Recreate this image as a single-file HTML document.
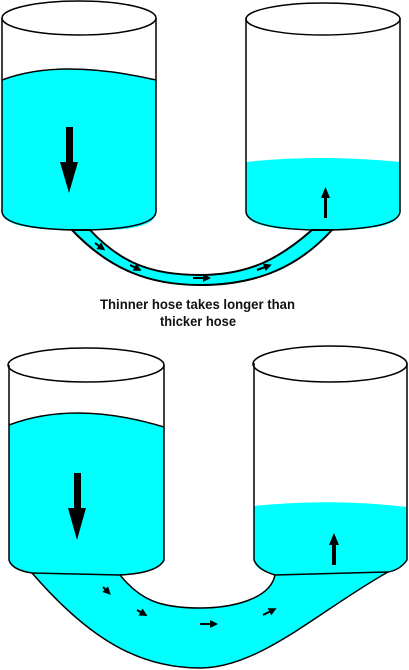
<!DOCTYPE html>
<html><head><meta charset="utf-8"><style>
html,body{margin:0;padding:0;background:#fff;width:409px;height:670px;overflow:hidden}
svg{display:block}
text{font-family:"Liberation Sans",sans-serif;font-size:13.5px;font-weight:bold;fill:#111}
</style></head><body>
<svg width="409" height="670" viewBox="0 0 409 670" xmlns="http://www.w3.org/2000/svg">
<defs>
<marker id="ah" markerWidth="4" markerHeight="4" refX="2" refY="2" orient="auto"><path d="M0,0 L4,2 L0,4z" fill="#000"/></marker>
</defs>
<g>
<path d="M2,80 Q60,58 156,80 L156,212 Q156,230 100,230 L72,230 Q2,230 2,212 Z" fill="#00ffff"/>
<path d="M2,80 Q60,58 156,80" fill="none" stroke="#000" stroke-width="1.5"/>
<path d="M2,18 L2,212 Q4,228 72,230 M156,18 L156,212 Q154,228 90,230" fill="none" stroke="#000" stroke-width="1.5"/>
<ellipse cx="79" cy="18" rx="77" ry="17" fill="none" stroke="#000" stroke-width="1.5"/>
<path d="M66,127 L73,127 L73,162 L78,162 L69,193 L60,162 L66,162 Z" fill="#000"/>
</g>
<g>
<path d="M246,162 Q320,154 400,162 L400,212 Q400,230 332,230 L312,230 Q246,230 246,212 Z" fill="#00ffff"/>
<path d="M246,18 L246,212 Q248,228 312,230 M400,18 L400,212 Q398,228 332,230" fill="none" stroke="#000" stroke-width="1.5"/>
<ellipse cx="323" cy="19" rx="77" ry="16" fill="none" stroke="#000" stroke-width="1.5"/>
<path d="M324,218 L327,218 L327,198 L330,198 L325.5,187 L321,198 L324,198 Z" fill="#000"/>
</g>
<path d="M72,230 C110,270 150,285 200,285 C260,285 300,265 332,230 L312,230 C280,258 250,275 200,275 C150,275 120,262 90,230 Z" fill="#00ffff" stroke="#000" stroke-width="2"/>
<g stroke="#000" stroke-width="2" marker-end="url(#ah)">
<line x1="95" y1="243" x2="102" y2="248"/><line x1="130" y1="265" x2="138" y2="269"/>
<line x1="193" y1="278" x2="207" y2="278"/><line x1="257" y1="270" x2="268" y2="266"/>
</g>
<text x="100" y="309" textLength="195" lengthAdjust="spacingAndGlyphs">Thinner hose takes longer than</text>
<text x="160" y="326" textLength="76" lengthAdjust="spacingAndGlyphs">thicker hose</text>
<g>
<path d="M9,425 Q75,400 164,427 L164,560 Q160,572 120,575 L32,573 Q9,570 9,560 Z" fill="#00ffff"/>
<path d="M9,425 Q75,400 164,427" fill="none" stroke="#000" stroke-width="1.5"/>
<path d="M9,365 L9,560 Q12,570 32,573 M164,365 L164,560 Q158,573 120,575" fill="none" stroke="#000" stroke-width="1.5"/>
<ellipse cx="86" cy="365" rx="78" ry="17" fill="none" stroke="#000" stroke-width="1.5"/>
<path d="M74,473 L81,473 L81,508 L86,508 L77,540 L68,508 L74,508 Z" fill="#000"/>
</g>
<g>
<path d="M254,506 Q330,498 407,507 L407,560 Q400,570 388,572 L275,575 Q254,570 254,560 Z" fill="#00ffff"/>
<path d="M254,363 L254,560 Q258,570 275,575 M407,363 L407,560 Q400,570 388,572" fill="none" stroke="#000" stroke-width="1.5"/>
<ellipse cx="330" cy="364" rx="77" ry="18" fill="none" stroke="#000" stroke-width="1.5"/>
<path d="M332,565 L336,565 L336,545 L339,545 L334,533 L329,545 L332,545 Z" fill="#000"/>
</g>
<path d="M32,573 C90,640 140,668 200,668 C260,668 320,610 388,572 L275,575 C270,600 230,608 200,608 C160,608 140,600 120,575 Z" fill="#00ffff" stroke="#000" stroke-width="1.5"/>
<g stroke="#000" stroke-width="2" marker-end="url(#ah)">
<line x1="103" y1="587" x2="108" y2="592"/><line x1="137" y1="610" x2="144" y2="614"/>
<line x1="200" y1="624" x2="214" y2="624"/><line x1="263" y1="615" x2="273" y2="610"/>
</g>
</svg>
</body></html>
